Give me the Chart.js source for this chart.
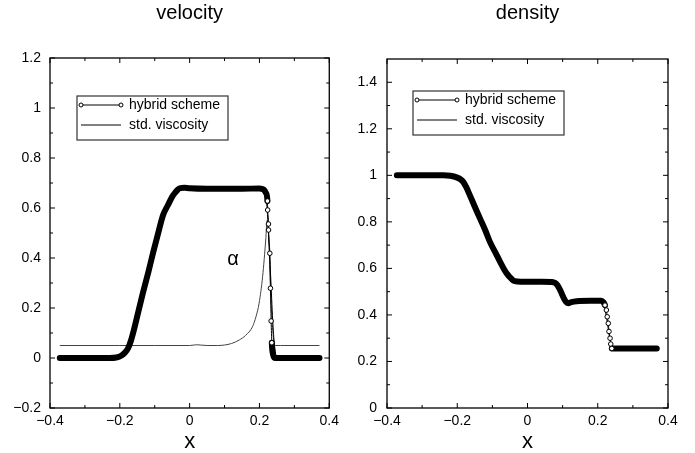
<!DOCTYPE html>
<html>
<head>
<meta charset="utf-8">
<script src="https://cdn.jsdelivr.net/npm/chart.js@4"></script>
<style>
  body { margin: 0; background: #fff; }
  #wrap { position: relative; width: 695px; height: 453px; }
  canvas { position: absolute; top: 0; }
  #velChart { left: 0; }
  #denChart { left: 345px; }
</style>
</head>
<body>
<div id="wrap">
  <canvas id="velChart" width="345" height="453"></canvas>
  <canvas id="denChart" width="350" height="453"></canvas>
</div>
<script>
// ---- data ----
const seriesNames = ["hybrid scheme", "std. viscosity"];

// velocity, hybrid scheme
const velX = [-0.372, -0.3, -0.23, -0.21, -0.195, -0.185, -0.176, -0.168, -0.161, -0.147, -0.133, -0.118,
  -0.104, -0.09, -0.076, -0.062, -0.05, -0.043, -0.035, -0.028, -0.015, 0, 0.05, 0.1, 0.15, 0.2, 0.212,
  0.2183, 0.2229, 0.2235, 0.2258, 0.226, 0.2297, 0.2315, 0.2335, 0.2354, 0.239, 0.2455, 0.26, 0.3, 0.372];
const velHybrid = [0, 0, 0, 0.002, 0.01, 0.022, 0.04, 0.07, 0.105, 0.185, 0.265, 0.345,
  0.425, 0.5, 0.572, 0.612, 0.645, 0.659, 0.672, 0.679, 0.681, 0.679, 0.677, 0.677, 0.677, 0.678, 0.674,
  0.661, 0.628, 0.592, 0.536, 0.512, 0.419, 0.279, 0.148, 0.061, 0.014, 0, 0, 0, 0];

// velocity, std. viscosity
const velStdX = [-0.372, -0.21, -0.19, -0.176, -0.161, -0.076, -0.062, -0.043, -0.028, 0, 0.1, 0.2, 0.214,
  0.22, 0.226, 0.232, 0.238, 0.243, 0.247, 0.25, 0.372];
const velStd = [0, 0, 0.015, 0.04, 0.105, 0.572, 0.612, 0.659, 0.679, 0.679, 0.677, 0.677, 0.67,
  0.63, 0.5, 0.33, 0.15, 0.05, 0.01, 0, 0];

// viscosity parameter alpha
const alphaX = [-0.372, -0.2, -0.1, 0, 0.02, 0.05, 0.08, 0.1, 0.12, 0.142, 0.16, 0.18, 0.19, 0.199, 0.209,
  0.218, 0.222, 0.226, 0.23, 0.235, 0.24, 0.245, 0.26, 0.372];
const alphaVals = [0.05, 0.05, 0.05, 0.05, 0.053, 0.05, 0.05, 0.052, 0.058, 0.072, 0.09, 0.125, 0.165, 0.219, 0.325,
  0.472, 0.55, 0.5, 0.35, 0.18, 0.08, 0.05, 0.05, 0.05];

// density, hybrid scheme
const denX = [-0.372, -0.3, -0.24, -0.22, -0.2, -0.19, -0.183, -0.174, -0.164, -0.15, -0.135, -0.12, -0.107,
  -0.092, -0.078, -0.068, -0.059, -0.05, -0.042, -0.036, -0.02, 0, 0.04, 0.07, 0.078, 0.085, 0.092, 0.098,
  0.104, 0.11, 0.116, 0.125, 0.14, 0.18, 0.21, 0.216, 0.2206, 0.2245, 0.227, 0.23, 0.232, 0.235, 0.237,
  0.24, 0.245, 0.3, 0.368];
const denHybrid = [1, 1, 1, 0.998, 0.99, 0.982, 0.972, 0.948, 0.914, 0.865, 0.814, 0.763, 0.714,
  0.67, 0.628, 0.6, 0.578, 0.562, 0.55, 0.545, 0.543, 0.543, 0.543, 0.542, 0.538, 0.528, 0.51, 0.49,
  0.47, 0.456, 0.45, 0.455, 0.459, 0.461, 0.461, 0.455, 0.442, 0.421, 0.392, 0.364, 0.329, 0.3, 0.275,
  0.256, 0.256, 0.256, 0.256];

// density, std. viscosity
const denStdX = [-0.372, -0.22, -0.183, -0.135, -0.078, -0.036, 0, 0.07, 0.085, 0.098, 0.11, 0.125, 0.21,
  0.218, 0.226, 0.234, 0.242, 0.248, 0.3, 0.368];
const denStd = [1, 0.998, 0.972, 0.814, 0.628, 0.545, 0.543, 0.542, 0.528, 0.49, 0.456, 0.455, 0.461,
  0.44, 0.38, 0.3, 0.265, 0.256, 0.256, 0.256];

// tick labels
const xTicks = [-0.4, -0.2, 0, 0.2, 0.4];
const velYTicks = [-0.2, 0, 0.2, 0.4, 0.6, 0.8, 1, 1.2];
const denYTicks = [0, 0.2, 0.4, 0.6, 0.8, 1, 1.2, 1.4];

// ---- helpers ----
const FONT = "'Liberation Sans', Arial, Helvetica, sans-serif";
Chart.defaults.font.family = FONT;
Chart.defaults.color = "#000";

const pts = (xs, ys) => xs.map((x, i) => ({ x: x, y: ys[i] }));
const fmt = v => String(Math.round(v * 10) / 10).replace("-", "\u2212");
const halfSteps = arr => arr.slice(1).map((v, i) => (v + arr[i]) / 2);

function slope(a, b) {
  return Math.abs((b.y - a.y) / (b.x - a.x));
}
function steepSeg(c, limit) {
  return slope(c.p0.parsed, c.p1.parsed) > limit;
}
function nearSteep(c, limit) {
  const d = c.dataset.data, i = c.dataIndex;
  return (i > 0 && slope(d[i - 1], d[i]) > limit) || (i < d.length - 1 && slope(d[i], d[i + 1]) > limit);
}

function hybridSet(data, limit) {
  return {
    label: seriesNames[0], data: data, order: 0,
    cubicInterpolationMode: "monotone",
    borderColor: "#000", borderCapStyle: "round", borderJoinStyle: "round",
    segment: { borderWidth: c => steepSeg(c, limit) ? 1 : 6 },
    pointRadius: c => nearSteep(c, limit) ? 2.3 : 0,
    pointBackgroundColor: "#fff", pointBorderColor: "#000", pointBorderWidth: 1,
    pointHoverRadius: 0
  };
}
function thinSet(label, data, color) {
  return { label: label, data: data, order: 1, cubicInterpolationMode: "monotone",
    borderColor: color, borderWidth: 1, pointRadius: 0 };
}

// box, inward ticks, legend and alpha label
const frame = {
  id: "frame",
  afterDatasetsDraw(chart, args, opts) {
    const { ctx, chartArea: a, scales } = chart;
    const sx = scales.x, sy = scales.y;
    ctx.save();
    ctx.strokeStyle = "#000";
    ctx.lineWidth = 1;
    const tick = (x0, y0, x1, y1) => { ctx.beginPath(); ctx.moveTo(x0, y0); ctx.lineTo(x1, y1); ctx.stroke(); };
    const yTick = (v, len) => { const p = sy.getPixelForValue(v); tick(a.left, p, a.left + len, p); tick(a.right, p, a.right - len, p); };
    const xTick = (v, len) => { const p = sx.getPixelForValue(v); tick(p, a.bottom, p, a.bottom - len); tick(p, a.top, p, a.top + len); };
    opts.yMajor.forEach(v => yTick(v, 5));
    halfSteps(opts.yMajor).forEach(v => yTick(v, 3));
    xTicks.forEach(v => xTick(v, 5));
    halfSteps(xTicks).forEach(v => xTick(v, 3));
    ctx.lineWidth = 1.3;
    ctx.strokeRect(a.left, a.top, a.right - a.left, a.bottom - a.top);

    // legend
    const bx = a.left + opts.legend.x, by = a.top + opts.legend.y;
    ctx.strokeStyle = "#333";
    ctx.lineWidth = 1.2;
    ctx.strokeRect(bx, by, 151, 44);
    ctx.strokeStyle = "#000";
    ctx.lineWidth = 1;
    tick(bx + 4, by + 9, bx + 44, by + 9);
    [bx + 4, bx + 44].forEach(cx => {
      ctx.beginPath(); ctx.arc(cx, by + 9, 2, 0, Math.PI * 2);
      ctx.fillStyle = "#fff"; ctx.fill(); ctx.stroke();
    });
    tick(bx + 4, by + 29, bx + 44, by + 29);
    ctx.fillStyle = "#000";
    ctx.font = "14px " + FONT;
    ctx.textBaseline = "middle";
    ctx.textAlign = "left";
    ctx.fillText(seriesNames[0], bx + 52, by + 9);
    ctx.fillText(seriesNames[1], bx + 52, by + 29);

    if (opts.mark) {
      ctx.font = "20px " + FONT;
      ctx.textAlign = "center";
      ctx.fillText(opts.mark.text, sx.getPixelForValue(opts.mark.x), sy.getPixelForValue(opts.mark.y));
    }
    ctx.restore();
  }
};

function makeChart(id, title, yTicks, yMin, yMax, datasets, o) {
  new Chart(document.getElementById(id), {
    type: "line",
    data: { datasets: datasets },
    options: {
      responsive: false,
      animation: false,
      layout: { padding: { left: 0, right: o.padRight, top: 0, bottom: 0 } },
      plugins: {
        legend: { display: false },
        tooltip: { enabled: false },
        title: {
          display: true, text: title, fullSize: false, color: "#000",
          font: { size: 20, weight: "normal" },
          padding: { top: 1, bottom: o.titleGap }
        },
        frame: { yMajor: yTicks, legend: o.legend, mark: o.mark }
      },
      scales: {
        x: {
          type: "linear", min: -0.4, max: 0.4,
          grid: { display: false, drawTicks: false }, border: { display: false },
          afterBuildTicks: s => { s.ticks = xTicks.map(v => ({ value: v })); },
          afterFit: s => { s.height = 45; },
          ticks: { padding: 6, font: { size: 14, lineHeight: 1 }, callback: fmt, maxRotation: 0 },
          title: { display: true, text: "x", font: { size: 22, lineHeight: 1 }, padding: { top: -6, bottom: 0 } }
        },
        y: {
          min: yMin, max: yMax,
          grid: { display: false, drawTicks: false }, border: { display: false },
          afterBuildTicks: s => { s.ticks = yTicks.map(v => ({ value: v })); },
          afterFit: s => { s.width = o.yWidth; },
          ticks: { padding: o.yPad, font: { size: 14 }, callback: fmt }
        }
      }
    },
    plugins: [frame]
  });
}

makeChart("velChart", "velocity", velYTicks, -0.2, 1.2, [
  hybridSet(pts(velX, velHybrid), 20),
  thinSet(seriesNames[1], pts(velStdX, velStd), "#000"),
  thinSet("alpha", pts(alphaX, alphaVals), "#444")
], { padRight: 14, titleGap: 33, yWidth: 50, yPad: 9, legend: { x: 27, y: 38 }, mark: { text: "\u03b1", x: 0.124, y: 0.395 } });

makeChart("denChart", "density", denYTicks, 0, 1.5, [
  hybridSet(pts(denX, denHybrid), 4.5),
  thinSet(seriesNames[1], pts(denStdX, denStd), "#000")
], { padRight: 27, titleGap: 34, yWidth: 42, yPad: 10, legend: { x: 26, y: 32 }, mark: null });
</script>
</body>
</html>
